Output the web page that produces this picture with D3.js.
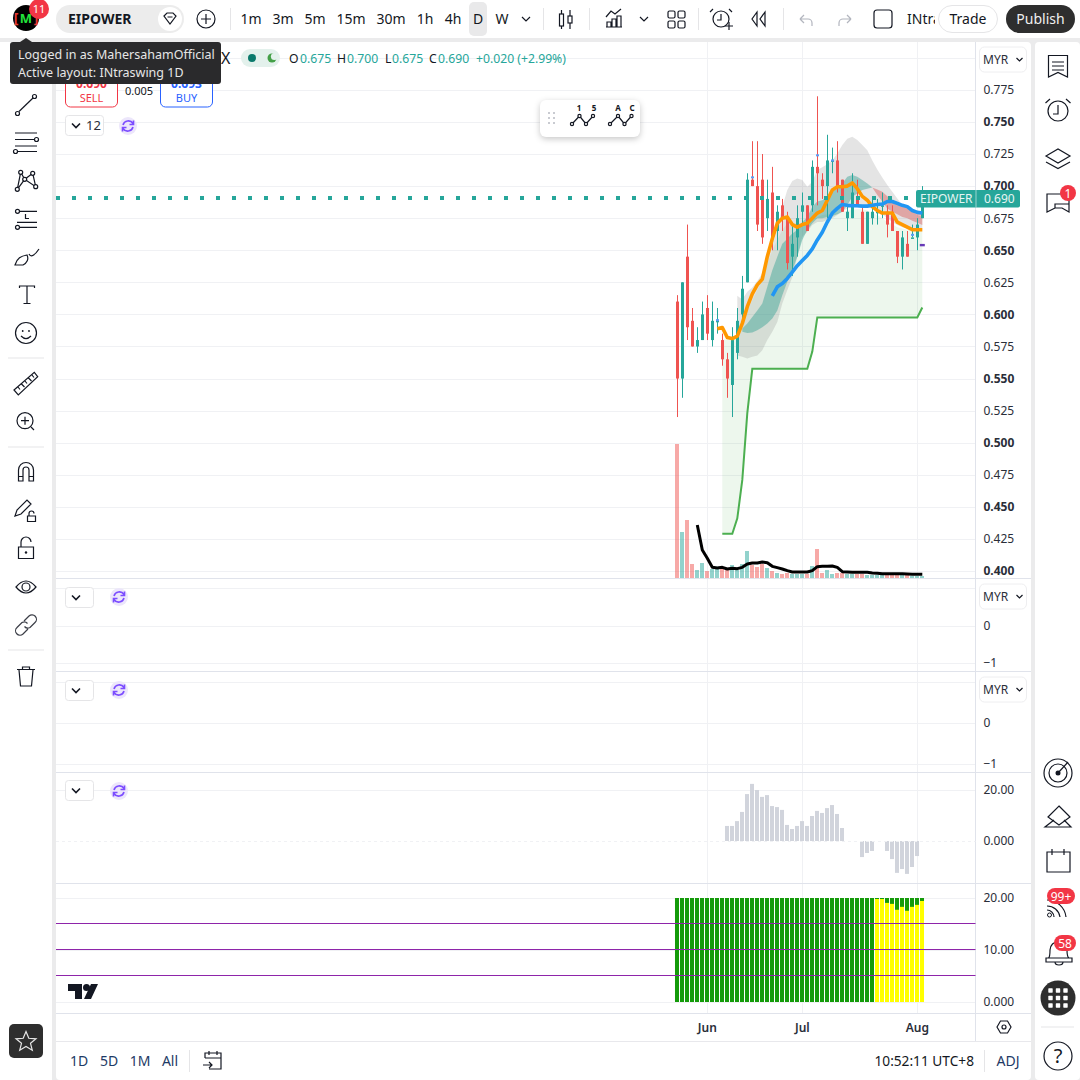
<!DOCTYPE html>
<html>
<head>
<meta charset="utf-8">
<script src="https://cdn.jsdelivr.net/npm/d3@7"></script>
<style>
  html, body { margin: 0; padding: 0; background: #fff; }
  text { font-family: "Noto Sans", sans-serif; fill: #131722; }
  .axis text { font-size: 12px; fill: #2a2e39; }
  .axis .domain, .axis line { display: none; }
  .ic { fill: none; stroke: #131722; stroke-width: 1.2; }
</style>
</head>
<body>
<div id="chart"></div>
<script>
// candles, one per trading day
var candleOpen  = [.61,.55,.645,.595,.575,.58,.605,.58,.595,.58,.565,.545,.57,.60,.625,.705,.70,.705,.675,.695,.665,.685,.675,.645,.66,.68,.685,.685,.715,.705,.70,.72,.72,.705,.675,.675,.69,.68,.655,.675,.68,.685,.68,.68,.665,.645,.655,.66,.66,.675];
var candleHigh  = [.615,.625,.67,.605,.59,.61,.615,.61,.605,.585,.57,.59,.605,.63,.71,.735,.735,.725,.705,.715,.685,.69,.68,.67,.685,.695,.685,.72,.77,.71,.74,.73,.735,.705,.685,.71,.705,.685,.68,.69,.69,.695,.685,.685,.665,.665,.665,.67,.675,.70];
var candleLow   = [.52,.535,.58,.575,.57,.58,.58,.575,.585,.56,.535,.52,.565,.595,.625,.70,.665,.655,.665,.65,.65,.665,.635,.63,.645,.67,.665,.68,.685,.69,.675,.71,.695,.68,.665,.675,.685,.655,.655,.67,.67,.675,.66,.665,.64,.635,.645,.66,.65,.675];
var candleClose = [.55,.625,.59,.575,.58,.60,.585,.595,.595,.565,.55,.58,.595,.62,.705,.70,.67,.66,.69,.66,.68,.675,.64,.655,.675,.685,.665,.715,.71,.70,.72,.72,.70,.68,.68,.695,.685,.655,.68,.68,.68,.685,.67,.665,.645,.66,.645,.66,.67,.69];

// volume (thousand lots) and its moving average, which starts at bar 4
var volumes = [402,138,174,42,24,45,21,27,34,34,24,39,24,42,81,39,33,42,30,21,15,12,15,12,12,12,12,36,87,15,24,12,15,15,12,12,12,12,9,9,9,9,9,9,9,9,9,6,6,6];
var volumeMa = [159,84,59,32,30,32,27,29,28,32,42,45,45,48,46,35,31,27,22,18,18,18,18,22,34,35,35,36,32,19,18,17,17,17,17,15,14,13,13,13,13,13,12,11,11,11];

// overlay lines: orange from bar 8, blue from bar 19
var fastLine = [.5888,.5898,.582,.5812,.583,.593,.606,.616,.623,.6275,.645,.659,.671,.675,.676,.670,.668,.670,.671,.675,.679,.681,.689,.697,.6995,.6995,.70,.7025,.698,.692,.689,.684,.681,.679,.679,.679,.672,.670,.668,.666,.666,.666];
var slowLine = [.6145,.6215,.624,.628,.633,.638,.642,.646,.651,.658,.664,.672,.679,.6826,.6857,.685,.6847,.6847,.6844,.6844,.685,.6857,.686,.688,.688,.6865,.685,.684,.681,.6795,.679];

// trailing stop and the fill above it, from bar 9
var stopLine = [.429,.429,.429,.441,.471,.523,.5576,.5576,.5576,.5576,.5576,.5576,.5576,.5576,.5576,.5576,.5576,.5576,.571,.5976,.5976,.5976,.5976,.5976,.5976,.5976,.5976,.5976,.5976,.5976,.5976,.5976,.5976,.5976,.5976,.5976,.5976,.5976,.5976,.5976,.6054];
var stopFillTop = [.5804,.5804,.5812,.585,.593,.603,.611,.619,.6267,.6397,.650,.658,.6657,.671,.671,.671,.671,.671,.6735,.676,.6774,.678,.6787,.679,.680,.681,.6813,.682,.682,.681,.679,.6774,.675,.672,.6704,.668,.667,.666,.6657,.6657,.6657];

// grey band from bar 12
var bandUpper = [.6145,.6116,.6176,.621,.626,.632,.6436,.655,.6657,.684,.697,.704,.706,.7047,.6995,.7034,.7125,.7146,.717,.720,.7255,.732,.737,.7385,.736,.732,.728,.720,.713,.7068,.7008,.6956,.6904,.685,.6826,.680,.6774,.676];
var bandLower = [.568,.567,.5656,.567,.568,.572,.580,.5864,.594,.6085,.619,.629,.645,.6605,.6644,.6696,.672,.672,.6735,.675,.6774,.680,.6826,.684,.6834,.6834,.6834,.6826,.681,.678,.675,.672,.6696,.668,.667,.666,.6657,.6657];

// teal cloud from bar 13, red cloud from bar 39
var tealUpper = [.589,.593,.598,.603,.6085,.6215,.6345,.645,.655,.659,.663,.6657,.672,.676,.684,.688,.689,.6917,.6956,.698,.702,.7073,.7086,.7073,.7047,.702,.699];
var tealLower = [.5864,.5856,.5859,.5877,.59,.593,.5968,.603,.615,.6254,.6345,.645,.658,.6657,.671,.675,.675,.676,.6766,.678,.680,.685,.6917,.6943,.697,.698,.699];
var redUpper = [.699,.6974,.6956,.692,.689,.6865,.685,.6834,.682,.680,.6787];
var redLower = [.699,.693,.688,.6826,.680,.678,.676,.675,.673,.6714,.6696];

// small doji markers
var markerBars = [8,15,28,31,47];
var markerPrices = [.5955,.7068,.724,.72,.662];

// momentum histogram, and the strength columns (yellow part, 0 = all green)
var momentum = [null,null,null,null,null,null,null,null,null,null,5.9,5.9,7.8,11.4,18.4,22.4,20,17.3,18,13.7,13.3,12.2,6.3,4.7,5.9,7.8,5.9,9.8,11.8,11,12.9,14.1,10.6,5.1,null,null,null,-6.3,-4.7,-3.9,null,null,-3.9,-7.1,-12.5,-11,-12.9,-10.2,-5.9,null];
var strengthTotal = 20;
var strengthYellow = [0,0,0,0,0,0,0,0,0,0,0,0,0,0,0,0,0,0,0,0,0,0,0,0,0,0,0,0,0,0,0,0,0,0,0,0,0,0,0,0,19.8,19.8,19.06,18.87,17.74,18.3,17.55,18.3,18.68,19.43];
var strengthLevels = [15,10,5];

var priceTicks = [.775,.75,.725,.70,.675,.65,.625,.60,.575,.55,.525,.50,.475,.45,.425,.40];
var monthBars = [6,25,48];
var monthLabels = ["Jun","Jul","Aug"];
var intervals = ["1m","3m","5m","15m","30m","1h","4h","D","W"];
var rangeButtons = ["1D","5D","1M","All"];

var upColor = "#26a69a", downColor = "#ef5350";
var chartLeft = 56, chartRight = 975.5;

var svg = d3.select("#chart").append("svg")
    .attr("width", 1080).attr("height", 1080)
    .style("display", "block");

svg.append("rect").attr("width", 1080).attr("height", 1080).attr("fill", "#ebebec");
svg.append("rect").attr("x", 0).attr("y", 0).attr("width", 1080).attr("height", 38).attr("fill", "#fff");
svg.append("rect").attr("x", 0).attr("y", 42).attr("width", 52).attr("height", 1038).attr("fill", "#fff");
svg.append("rect").attr("x", 56).attr("y", 42).attr("width", 975).attr("height", 1038).attr("rx", 4).attr("fill", "#fff");
svg.append("rect").attr("x", 1035).attr("y", 42).attr("width", 45).attr("height", 1038).attr("rx", 4).attr("fill", "#fff");

// scales
var x = d3.scaleLinear().domain([0, 49]).range([677.3, 922.3]);
var y = d3.scaleLinear().domain([.40, .80]).range([571, 57.8]);
var yVolume = d3.scaleLinear().domain([0, 402]).range([578, 444]);
var yMom = d3.scaleLinear().domain([0, 20]).range([841, 790]);
var yStrength = d3.scaleLinear().domain([0, 20]).range([1002, 898]);
var yEmptyA = d3.scaleLinear().domain([-1, 0]).range([663, 625.5]);
var yEmptyB = d3.scaleLinear().domain([-1, 0]).range([764, 723]);

function barLeft(i) { return Math.round(x(i)) - 2; }

// grid
var grid = svg.append("g").attr("stroke", "#f0f1f4").attr("stroke-width", 1);
function hGrid(scale, values) {
    grid.selectAll(null).data(values).enter().append("line")
        .attr("x1", chartLeft).attr("x2", chartRight)
        .attr("y1", function(d) { return Math.round(scale(d)) + .5; })
        .attr("y2", function(d) { return Math.round(scale(d)) + .5; });
}
hGrid(y, priceTicks.concat([.80]));
hGrid(yEmptyA, [-1, 0, 1]);
hGrid(yEmptyB, [-1, 0, 1]);
hGrid(yMom, [20]);
hGrid(yStrength, [0, 10, 20]);
grid.selectAll(null).data(monthBars).enter().append("line")
    .attr("x1", function(d) { return Math.round(x(d)) + .5; }).attr("x2", function(d) { return Math.round(x(d)) + .5; })
    .attr("y1", 42).attr("y2", 1013);

// pane borders
[578.5, 671.5, 772.5, 883.5, 1013.5].forEach(function(v) {
    svg.append("line").attr("x1", chartLeft).attr("x2", 1031).attr("y1", v).attr("y2", v).attr("stroke", "#e0e3eb");
});
svg.append("line").attr("x1", chartRight).attr("x2", chartRight).attr("y1", 42).attr("y2", 1041).attr("stroke", "#e0e3eb");
svg.append("line").attr("x1", chartLeft).attr("x2", 1031).attr("y1", 1041.5).attr("y2", 1041.5).attr("stroke", "#e8e8ec");

// volume bars
svg.append("g").selectAll("rect").data(volumes).enter().append("rect")
    .attr("x", function(d, i) { return barLeft(i); })
    .attr("width", 4)
    .attr("y", function(d) { return yVolume(d); })
    .attr("height", function(d) { return yVolume(0) - yVolume(d); })
    .attr("fill", function(d, i) { return candleClose[i] >= candleOpen[i] ? upColor : downColor; })
    .attr("opacity", .5);

function series(values, start) {
    return values.map(function(v, i) { return [start + i, v]; });
}
function bandPath(upper, lower, start) {
    return d3.area()
        .x(function(d, i) { return x(start + i); })
        .y0(function(d, i) { return y(lower[i]); })
        .y1(function(d) { return y(d); })(upper);
}
var priceLine = d3.line().x(function(d) { return x(d[0]); }).y(function(d) { return y(d[1]); });

// stop fill, grey band, clouds
svg.append("path").attr("d", d3.area()
    .x(function(d, i) { return x(9 + i); })
    .y0(function(d, i) { return y(stopLine[i]); })
    .y1(function(d) { return y(d); })(stopFillTop))
    .attr("fill", "#4caf50").attr("fill-opacity", .1);
svg.append("path").attr("d", bandPath(bandUpper, bandLower, 12)).attr("fill", "#777").attr("fill-opacity", .2);
svg.append("path").attr("d", bandPath(tealUpper, tealLower, 13)).attr("fill", "#2a9d8f").attr("fill-opacity", .42);
svg.append("path").attr("d", bandPath(redUpper, redLower, 39)).attr("fill", "#d9504f").attr("fill-opacity", .42);

// candles
var candles = svg.append("g");
candles.selectAll("line").data(candleOpen).enter().append("line")
    .attr("x1", function(d, i) { return Math.round(x(i)) + .5; }).attr("x2", function(d, i) { return Math.round(x(i)) + .5; })
    .attr("y1", function(d, i) { return y(candleHigh[i]); })
    .attr("y2", function(d, i) { return y(candleLow[i]); })
    .attr("stroke", function(d, i) { return candleClose[i] >= d ? upColor : downColor; });
candles.selectAll("rect").data(candleOpen).enter().append("rect")
    .attr("x", function(d, i) { return Math.round(x(i)) - 1; })
    .attr("width", 3)
    .attr("y", function(d, i) { return y(Math.max(d, candleClose[i])); })
    .attr("height", function(d, i) { return Math.max(1.5, Math.abs(y(d) - y(candleClose[i]))); })
    .attr("fill", function(d, i) { return candleClose[i] >= d ? upColor : downColor; });
svg.append("g").selectAll("rect").data(markerBars).enter().append("rect")
    .attr("x", function(d) { return Math.round(x(d)) - 1; })
    .attr("y", function(d, i) { return y(markerPrices[i]) - 1; })
    .attr("width", 3).attr("height", 2).attr("fill", "#5b9cf6");

// lines
svg.append("path").attr("d", priceLine(series(stopLine, 9))).attr("fill", "none").attr("stroke", "#4caf50").attr("stroke-width", 2);
svg.append("path").attr("d", priceLine(series(fastLine, 8))).attr("fill", "none").attr("stroke", "#ff9800").attr("stroke-width", 3.6).attr("stroke-linejoin", "round");
svg.append("path").attr("d", priceLine(series(slowLine, 19))).attr("fill", "none").attr("stroke", "#2196f3").attr("stroke-width", 3.6).attr("stroke-linejoin", "round");
svg.append("path").attr("d", d3.line()
    .x(function(d, i) { return x(4 + i); })
    .y(function(d) { return yVolume(d); })(volumeMa))
    .attr("fill", "none").attr("stroke", "#000").attr("stroke-width", 3).attr("stroke-linejoin", "round");
svg.append("rect").attr("x", x(49) - 2.5).attr("y", y(.654) - 1.2).attr("width", 5).attr("height", 2.4).attr("fill", "#673ab7");

// last price dots and tag
svg.append("line").attr("x1", chartLeft).attr("x2", 916)
    .attr("y1", y(.69) - .9).attr("y2", y(.69) - .9)
    .attr("stroke", upColor).attr("stroke-width", 4).attr("stroke-dasharray", "4,12");
svg.append("rect").attr("x", 916).attr("y", 190).attr("width", 104).attr("height", 17.5).attr("rx", 2).attr("fill", upColor);
svg.append("line").attr("x1", 976).attr("x2", 976).attr("y1", 190).attr("y2", 207.5).attr("stroke", "#e8f5f3").attr("stroke-width", .6);
svg.append("text").attr("x", 920).attr("y", 203).attr("font-size", 12).style("fill", "#e6f5f3").text("EIPOWER");
svg.append("text").attr("x", 984).attr("y", 203).attr("font-size", 12).style("fill", "#e6f5f3").text("0.690");

// momentum pane
svg.append("g").selectAll("rect").data(momentum).enter().append("rect")
    .attr("x", function(d, i) { return barLeft(i); })
    .attr("width", 4)
    .attr("y", function(d) { return d === null ? yMom(0) : Math.min(yMom(d), yMom(0)); })
    .attr("height", function(d) { return d === null ? 0 : Math.abs(yMom(d) - yMom(0)); })
    .attr("fill", "#d1d4dc");
svg.append("line").attr("x1", chartLeft).attr("x2", chartRight).attr("y1", yMom(0) + .5).attr("y2", yMom(0) + .5)
    .attr("stroke", "#f0f1f4").attr("stroke-dasharray", "3,3");

// strength pane
svg.append("g").selectAll("rect").data(strengthYellow).enter().append("rect")
    .attr("x", function(d, i) { return barLeft(i); })
    .attr("width", 4)
    .attr("y", yStrength(strengthTotal))
    .attr("height", yStrength(0) - yStrength(strengthTotal))
    .attr("fill", "#149b0a");
svg.append("g").selectAll("rect").data(strengthYellow).enter().append("rect")
    .attr("x", function(d, i) { return barLeft(i); })
    .attr("width", 4)
    .attr("y", function(d) { return yStrength(d); })
    .attr("height", function(d) { return yStrength(0) - yStrength(d); })
    .attr("fill", "#ffff00");
svg.append("g").selectAll("line").data(strengthLevels).enter().append("line")
    .attr("x1", chartLeft).attr("x2", chartRight)
    .attr("y1", function(d) { return Math.round(yStrength(d)) - .5; }).attr("y2", function(d) { return Math.round(yStrength(d)) - .5; })
    .attr("stroke", "#8e24aa").attr("stroke-width", 1);

// axes
function rightAxis(scale, values, format) {
    var g = svg.append("g").attr("class", "axis")
        .attr("transform", "translate(" + chartRight + ",0)")
        .call(d3.axisRight(scale).tickValues(values).tickFormat(format).tickSize(0).tickPadding(8));
    return g;
}
var priceAxis = rightAxis(y, priceTicks, d3.format(".3f"));
priceAxis.selectAll("text")
    .style("font-weight", function(d) { return Math.round(d * 1000) % 50 === 0 ? 700 : 400; });
rightAxis(yEmptyA, [0, -1], function(d) { return d === 0 ? "0" : "\u22121"; });
rightAxis(yEmptyB, [0, -1], function(d) { return d === 0 ? "0" : "\u22121"; });
rightAxis(yMom, [0, 20], function(d) { return d === 0 ? "0.000" : "20.00"; });
rightAxis(yStrength, [0, 10, 20], function(d) { return d === 0 ? "0.000" : d + ".00"; });

var timeAxis = svg.append("g").attr("class", "axis")
    .attr("transform", "translate(-0.5,1013)")
    .call(d3.axisBottom(x).tickValues(monthBars)
        .tickFormat(function(d, i) { return monthLabels[i]; }).tickSize(0).tickPadding(10));
timeAxis.selectAll("text").style("font-weight", 600);

// --- toolbars and other page furniture ---
function label(txt, px, py, size, color, anchor, weight) {
    return svg.append("text").attr("x", px).attr("y", py).attr("font-size", size)
        .attr("text-anchor", anchor || "start").attr("font-weight", weight || 400)
        .style("fill", color || "#131722").text(txt);
}
function ic(d, color) {
    return svg.append("path").attr("class", "ic").attr("d", d).style("stroke", color || "#131722");
}
function dot(cx, cy, r, color) {
    return svg.append("circle").attr("class", "ic").attr("cx", cx).attr("cy", cy).attr("r", r).style("stroke", color || "#131722");
}
function filled(cx, cy, r, color) {
    return svg.append("circle").attr("cx", cx).attr("cy", cy).attr("r", r).attr("fill", color);
}
function pill(px, py, w, h, r, fill, stroke) {
    return svg.append("rect").attr("x", px).attr("y", py).attr("width", w).attr("height", h).attr("rx", r)
        .attr("fill", fill || "#fff").attr("stroke", stroke || "none");
}
function sep(x1, y1, x2, y2) {
    svg.append("line").attr("x1", x1).attr("y1", y1).attr("x2", x2).attr("y2", y2).attr("stroke", "#e5e5e7");
}

// top bar
pill(56, 5, 128, 28, 14, "#ececec");
label("EIPOWER", 68, 24, 14, "#131722", "start", 700);
filled(170, 19, 12, "#fff");
ic("M164,16 L167,13 H173 L176,16 L170,24 Z M167.5,17 H172.5");
dot(206, 19, 9);
ic("M201,19 H211 M206,14 V24");
sep(230.5, 8, 230.5, 30);
var intervalX = [251, 283, 315, 351, 391, 425, 453, 478, 502];
pill(469, 2, 18, 34, 5, "#e9e9ea");
intervals.forEach(function(t, i) { label(t, intervalX[i], 24, 14, "#131722", "middle"); });
ic("M522,17 L526,21 L530,17");
sep(543.5, 8, 543.5, 30);
ic("M561.5,10 V29 M570,10 V29");
svg.append("rect").attr("class", "ic").attr("x", 559.5).attr("y", 14).attr("width", 4).attr("height", 12).style("fill", "#fff");
svg.append("rect").attr("class", "ic").attr("x", 568).attr("y", 16).attr("width", 4).attr("height", 7).style("fill", "#fff");
sep(589.5, 8, 589.5, 30);
ic("M606,17 L611,11 L615,14 L621,9 M606,27 H622 M607,27 V22 H611 V27 M612,27 V19 H616 V27 M617,27 V16 H621 V27");
ic("M640,17 L644,21 L648,17");
["668,11", "678,11", "668,21", "678,21"].forEach(function(p) {
    var xy = p.split(",");
    svg.append("rect").attr("class", "ic").attr("x", +xy[0]).attr("y", +xy[1]).attr("width", 7).attr("height", 7).attr("rx", 1.5);
});
sep(698.5, 8, 698.5, 30);
dot(721, 19, 8);
ic("M721,14 V20 H717 M713,9 L710,12 M729,9 L732,12 M725,26 H733 M729,22 V30");
ic("M757,12 L752,19 L757,26 Z M765,12 L760,19 L765,26 Z");
sep(783.5, 8, 783.5, 30);
ic("M800,19 H808 A4,4 0 0 1 812,23 V26 M800,19 L804,15 M800,19 L804,23", "#b2b5be");
ic("M851,19 H843 A4,4 0 0 0 839,23 V26 M851,19 L847,15 M851,19 L847,23", "#b2b5be");
svg.append("rect").attr("class", "ic").attr("x", 874).attr("y", 10).attr("width", 18).attr("height", 18).attr("rx", 3);
svg.append("clipPath").attr("id", "layoutClip").append("rect").attr("x", 900).attr("y", 0).attr("width", 35).attr("height", 38);
label("INtra", 907, 24, 14).attr("clip-path", "url(#layoutClip)");
pill(938.5, 5.5, 59, 27, 13.5, "#fff", "#e5e5e7");
label("Trade", 968, 24, 14, "#131722", "middle");
pill(1006, 5, 69, 28, 14, "#2e2e2e");
label("Publish", 1040.5, 24, 14, "#f0f0f0", "middle");

// profile logo
filled(26, 18, 13, "#000");
label("[", 16, 23, 14, "#e53935", "middle", 700);
label("]", 36, 23, 14, "#e53935", "middle", 700);
label("M", 26, 23, 13, "#22e33a", "middle", 700);
filled(39, 9, 10, "#f23645");
label("11", 39, 13, 11, "#fff", "middle");

// legend
label("X", 221, 64, 16);
pill(241, 49, 39, 18, 9, "#e3f1ec");
filled(252, 58, 4, "#0b7a6c");
filled(272, 58, 4.5, "#43a047");
filled(274.5, 56.5, 3.6, "#e3f1ec");
var legendParts = [["O", 289, "#131722"], ["0.675", 300, upColor], ["H", 337, "#131722"], ["0.700", 347, upColor],
    ["L", 385, "#131722"], ["0.675", 392, upColor], ["C", 429, "#131722"], ["0.690", 438, upColor], ["+0.020 (+2.99%)", 476, upColor]];
legendParts.forEach(function(p) { label(p[0], p[1], 63, 12.2, p[2]); });

// buy / sell
pill(65.5, 76, 52, 31, 5, "#fff", "#f23645");
label("0.690", 91.5, 88, 12, "#f23645", "middle", 700);
label("SELL", 91.5, 102, 11, "#f23645", "middle");
label("0.005", 139, 95, 11, "#131722", "middle");
pill(160.5, 76, 52, 31, 5, "#fff", "#2962ff");
label("0.693", 186.5, 88, 12, "#2962ff", "middle", 700);
label("BUY", 186.5, 102, 11, "#2962ff", "middle");

// pane buttons
function syncIcon(cx, cy) {
    filled(cx, cy, 9, "#ece6fb");
    var c = ic("M" + (cx - 5) + "," + (cy - 1) + " A5.5,5.5 0 0 1 " + (cx + 5) + "," + (cy - 2.5) + " M" + (cx + 5) + "," + (cy + 1) + " A5.5,5.5 0 0 1 " + (cx - 5) + "," + (cy + 2.5) +
        " M" + (cx + 5.5) + "," + (cy - 5.5) + " V" + (cy - 1.5) + " H" + (cx + 1.5) + " M" + (cx - 5.5) + "," + (cy + 5.5) + " V" + (cy + 1.5) + " H" + (cx - 1.5), "#7c4dff");
    c.style("stroke-width", 1.6);
}
function paneButton(py, h, txt, w) {
    pill(65.5, py, w, h, 3, "#fff", "#e5e5e7");
    ic("M72," + (py + h / 2 - 2) + " L76," + (py + h / 2 + 2) + " L80," + (py + h / 2 - 2)).style("stroke-width", 1.6);
    if (txt) label(txt, 86, py + h / 2 + 4.5, 13, "#2a2e39");
}
paneButton(115.5, 20, "12", 38);
syncIcon(128, 126);
paneButton(587.5, 20, null, 28);
syncIcon(119, 597);
paneButton(680.5, 20, null, 28);
syncIcon(119, 690);
paneButton(780.5, 20, null, 28);
syncIcon(119, 791);

function currency(py) {
    pill(979.5, py, 47, 25, 5, "#fff", "#eeeef0");
    label("MYR", 983, py + 17, 12, "#2a2e39");
    ic("M1016.5," + (py + 11) + " L1019.5," + (py + 14) + " L1022.5," + (py + 11));
}
currency(47);
currency(584);
currency(677);

// floating wave tools
svg.append("rect").attr("x", 540).attr("y", 100).attr("width", 100).attr("height", 37).attr("rx", 6).attr("fill", "#fff")
    .style("filter", "drop-shadow(0 2px 3px rgba(0,0,0,.22))");
[113, 118, 123].forEach(function(py) {
    [549, 554].forEach(function(px) { svg.append("rect").attr("x", px - 1).attr("y", py - 1).attr("width", 2).attr("height", 2).attr("fill", "#c9cbd1"); });
});
[[572, 579.5, 586, 593], [610, 618, 624.5, 631.5]].forEach(function(p) {
    ic("M" + p[0] + ",124 L" + p[1] + ",116 L" + p[2] + ",124 L" + p[3] + ",116");
    [[p[0], 124], [p[1], 116], [p[2], 124], [p[3], 116]].forEach(function(q) { dot(q[0], q[1], 1.6).style("fill", "#fff"); });
});
label("1", 579, 111, 8, "#131722", "middle", 700);
label("5", 594, 111, 8, "#131722", "middle", 700);
label("A", 618, 111, 8, "#131722", "middle", 700);
label("C", 632, 111, 8, "#131722", "middle", 700);

// left toolbar
ic("M19,111.5 L33,98");
dot(17.5, 113.5, 2); dot(34.5, 96.5, 2);
ic("M15,133 H37 M15,139.5 H34 M15,146 H37 M18,151.5 H37");
dot(36.5, 139.5, 2); dot(15.5, 151.5, 2);
ic("M17.3,189.3 L20.7,172.3 L24.7,179.3 L32.7,173.3 L35.7,186.7 L24.7,179.3 Z");
[[20.7, 172.3], [32.7, 173.3], [24.7, 179.3], [17.3, 189.3], [35.7, 186.7]].forEach(function(q) { dot(q[0], q[1], 2).style("fill", "#fff"); });
ic("M19.5,211.3 H37 M17,222.3 H37 M20,227.3 H37 M25.5,214 V218.5 H29");
dot(17.5, 211.3, 2); dot(17.5, 227.3, 2);
ic("M15,265 C17,258 21,256 27,255 C29,259 27,263 23,265 Z M29,254 C31,258 35,255 39,249");
ic("M19.5,288 V286 H34.5 V288 M27,286 V303.5 M23.5,303.5 H30.5");
dot(26, 333, 10.5);
ic("M21,336 Q26,341 31,336");
filled(22.7, 331, .9, "#131722"); filled(29, 331, .9, "#131722");
sep(8, 358, 44, 358);
ic("M14,390 L34.3,372.3 L37.7,376.7 L18.3,395 Z M18,387 L20,389.5 M21.5,384 L24.5,387 M25,381 L27,383.5 M28.5,378 L31.5,381 M32,375 L34,377.5");
dot(25, 420.7, 8);
ic("M21,420.7 H29 M25,416.7 V424.7 M31,427 L34,430");
sep(8, 447, 44, 447);
ic("M18.5,481 V470 A7.5,7.5 0 0 1 33.5,470 V481 H29 V470 A3,3 0 0 0 23,470 V481 Z M18.5,476.5 H23 M29,476.5 H33.5");
ic("M15,516 L17,510 L27,500 L31,504 L21,514 Z M27.5,516 H35.5 V521.5 H27.5 Z M29,516 V513.5 A2.5,2.5 0 0 1 34,513.5");
ic("M18.5,547 H33.5 V558.5 H18.5 Z M21,547 V542 A5,5 0 0 1 31,542");
filled(26, 552.5, 1.2, "#131722");
ic("M16,587 Q26,575 36,587 Q26,599 16,587 Z");
dot(26, 587, 4);
ic("M24,621 L29,616 A4.4,4.4 0 0 1 35,622.5 L30,627.5 A4.4,4.4 0 0 1 24.5,626.5 M28,629 L23,634 A4.4,4.4 0 0 1 17,627.5 L22,622.5 A4.4,4.4 0 0 1 27.5,623.5", "#3a3d46");
sep(8, 650, 44, 650);
ic("M17,669.5 H35 M22.5,669 V667 H29.5 V669 M19,670 L20.5,686 H31.5 L33,670");
pill(9, 1024, 34, 34, 5, "#2e2e2e");
ic("M26,1031.5 L28.8,1038.3 L36,1038.8 L30.5,1043.3 L32.3,1050.3 L26,1046.5 L19.7,1050.3 L21.5,1043.3 L16,1038.8 L23.2,1038.3 Z", "#e6e6e6");

// tradingview mark
svg.append("path").attr("d", "M68,984 H82 V999 H75 V991 H68 Z M84,999 L91,984 H98 L91,999 Z").attr("fill", "#131722");
filled(86.5, 987.5, 3.5, "#131722");

// right toolbar
ic("M1048.5,55.5 H1067.5 V77 L1058,72.5 L1048.5,77 Z M1052,62 H1064 M1052,66 H1064 M1052,70 H1064");
dot(1058, 111, 10);
ic("M1058,105 V114 H1053 M1045.5,103 L1050,99 M1070.5,103 L1066,99");
ic("M1046,156 L1058,149 L1070,156 L1058,163 Z M1046,162 L1058,168.5 L1070,162");
ic("M1047,194 H1069 V212 L1062,208 H1055 L1047,212 Z M1055,208 V204 H1069");
filled(1068, 193, 8, "#f23645");
label("1", 1068, 197.5, 12, "#fff", "middle");
dot(1058, 773, 14); dot(1058, 773, 9);
filled(1058, 773, 2.5, "#131722");
ic("M1058,773 L1068,762");
ic("M1059,806 L1070,817 L1059,825 L1048,817 Z M1054,820 L1045,827 H1071 L1064,820");
ic("M1047,852 H1070 V872 H1047 Z M1052,849 V855 M1064,849 V855");
filled(1049.5, 915, 2, "#fff").attr("stroke", "#131722");
ic("M1047,906 A13,13 0 0 1 1060,917 M1047,900 A19,19 0 0 1 1066,917 M1047,910 A7,7 0 0 1 1054,917");
pill(1047, 888, 28, 16, 8, "#f23645");
label("99+", 1061, 901, 12, "#fff", "middle");
ic("M1048.5,958 Q1050,957 1050,950 A8.5,8.5 0 0 1 1067,950 Q1067,957 1069,958 M1046,958 H1072 V962 H1046 Z M1055,962 A4,3 0 0 0 1063,962");
pill(1054, 935, 22, 16, 8, "#f23645");
label("58", 1065, 948, 12, "#fff", "middle");
filled(1058, 998, 17.5, "#2e2e2e");
[-7.5, 0, 7.5].forEach(function(a) {
    [-7.5, 0, 7.5].forEach(function(b) {
        svg.append("rect").attr("x", 1058 + a - 2.2).attr("y", 998 + b - 2.2).attr("width", 4.4).attr("height", 4.4).attr("rx", .6).attr("fill", "#fff");
    });
});
sep(1041, 1027, 1074, 1027);
dot(1058, 1056, 14);
label("?", 1058, 1063, 20, "#131722", "middle");

// bottom bar
ic("M997,1027 L1000.5,1021 H1007.5 L1011,1027 L1007.5,1033 H1000.5 Z");
dot(1004, 1027, 2);
var rangeX = [79, 109, 140, 170];
rangeButtons.forEach(function(t, i) { label(t, rangeX[i], 1066, 14, "#1e3a66", "middle"); });
sep(189.5, 1050, 189.5, 1072);
ic("M205,1058 V1053 H221 V1069 H209 M205,1058 H221 M209,1051 V1055 M217,1051 V1055 M203,1065 H212 M209,1062 L212,1065 L209,1068");
label("10:52:11 UTC+8", 974, 1066, 13.7, "#131722", "end");
sep(984.5, 1050, 984.5, 1072);
label("ADJ", 1008, 1066, 14, "#1e3a66", "middle");

// account tooltip on top of everything
svg.append("path").attr("d", "M20,42 L26,38 L32,42 Z").attr("fill", "#2a2a2c");
pill(10, 42, 211, 42, 3, "#2a2a2c");
label("Logged in as MahersahamOfficial", 18, 59, 12.5, "#e6e6e6");
label("Active layout: INtraswing 1D", 18, 77, 12.5, "#e6e6e6");
</script>
</body>
</html>
